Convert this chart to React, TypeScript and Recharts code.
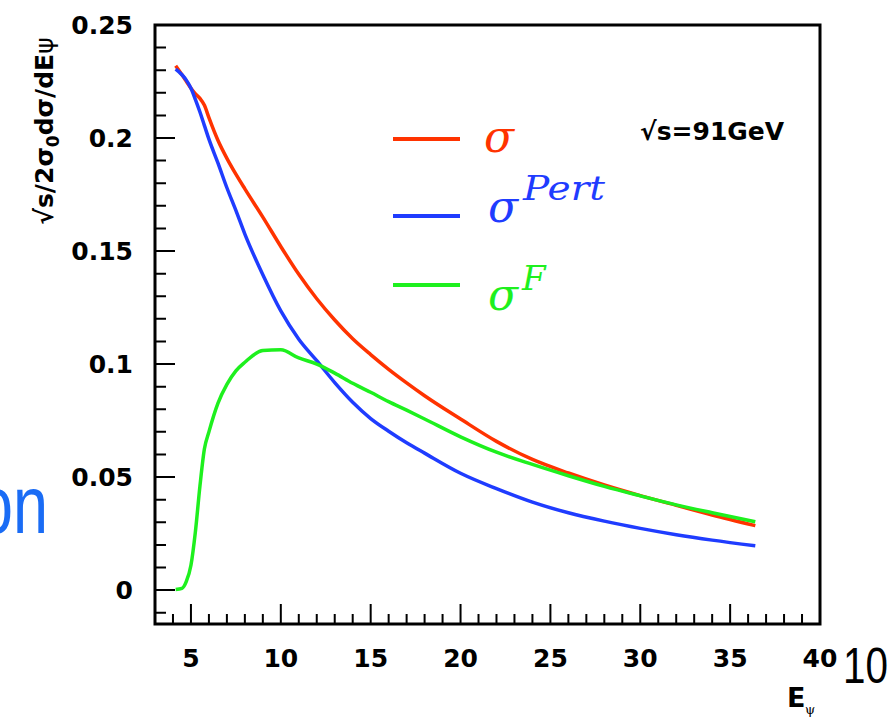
import { Line, LineChart, XAxis, YAxis } from "recharts";

// E_psi grid (GeV) and curve values
const energies = [4.15, 4.5, 4.75, 5, 5.25, 5.5, 5.75, 6, 6.5, 7, 7.5, 8, 9, 10, 11, 12, 13, 14, 15, 16, 17, 18, 20, 22, 24, 26, 28, 30, 32, 34, 36.4];
const sigmaTotal = [0.232, 0.228, 0.225, 0.222, 0.2195, 0.2175, 0.2145, 0.209, 0.199, 0.191, 0.184, 0.1775, 0.165, 0.152, 0.1397, 0.1289, 0.1195, 0.1112, 0.1042, 0.0977, 0.0917, 0.086, 0.0757, 0.0658, 0.0578, 0.0518, 0.0465, 0.0418, 0.0375, 0.0332, 0.0285];
const sigmaPert = [0.2305, 0.228, 0.2255, 0.222, 0.217, 0.2115, 0.2055, 0.1995, 0.189, 0.178, 0.168, 0.1575, 0.1395, 0.1235, 0.111, 0.1015, 0.0918, 0.0831, 0.0759, 0.0703, 0.0652, 0.0606, 0.0517, 0.0449, 0.0389, 0.0342, 0.0305, 0.0273, 0.0245, 0.0221, 0.0196];
const sigmaF = [0.0003, 0.0008, 0.004, 0.011, 0.026, 0.046, 0.0625, 0.07, 0.0826, 0.091, 0.097, 0.1008, 0.106, 0.1063, 0.1027, 0.1, 0.096, 0.0915, 0.0875, 0.0834, 0.0796, 0.0757, 0.0678, 0.061, 0.0556, 0.0506, 0.0459, 0.0417, 0.0377, 0.0342, 0.0302];

const xMajor = [5, 10, 15, 20, 25, 30, 35, 40];
const xMinor = [4, 6, 7, 8, 9, 11, 12, 13, 14, 16, 17, 18, 19, 21, 22, 23, 24, 26, 27, 28, 29, 31, 32, 33, 34, 36, 37, 38, 39];
const yMajor = [0, 0.05, 0.1, 0.15, 0.2, 0.25];
const yMajorLabels = ["0", "0.05", "0.1", "0.15", "0.2", "0.25"];
const yMinor = [-0.01, 0.01, 0.02, 0.03, 0.04, 0.06, 0.07, 0.08, 0.09, 0.11, 0.12, 0.13, 0.14, 0.16, 0.17, 0.18, 0.19, 0.21, 0.22, 0.23, 0.24];

const data = energies.map((e, i) => ({ e, total: sigmaTotal[i], pert: sigmaPert[i], f: sigmaF[i] }));

const RED = "#ff3300";
const BLUE = "#1f3cff";
const GREEN = "#1ef01e";
const tickFont = { fontFamily: "DejaVu Sans", fontWeight: 700, fontSize: 25 };
const X_DOMAIN: [number, number] = [3, 40];
const Y_DOMAIN: [number, number] = [-0.015, 0.25];

// plot box (matches chart margins + axis sizes below)
const W = 895;
const H = 717;
const LEFT = 155;
const RIGHT = 820;
const TOP = 25;
const BOTTOM = 624;
const sx = (v: number) => LEFT + ((v - X_DOMAIN[0]) / (X_DOMAIN[1] - X_DOMAIN[0])) * (RIGHT - LEFT);
const sy = (v: number) => BOTTOM - ((v - Y_DOMAIN[0]) / (Y_DOMAIN[1] - Y_DOMAIN[0])) * (BOTTOM - TOP);

const renderXLabel = (props: any) => (
  <text x={props.x} y={props.y + 43} textAnchor="middle" fill="#000" {...tickFont}>
    {props.payload.value}
  </text>
);

const renderYLabel = (props: any) => {
  const idx = yMajor.findIndex((v) => Math.abs(v - props.payload.value) < 1e-9);
  return (
    <text x={props.x - 22} y={props.y + 9} textAnchor="end" fill="#000" {...tickFont}>
      {yMajorLabels[idx]}
    </text>
  );
};

export default function App() {
  // inward ticks, drawn on top since the axis tick lines did not show up
  const tickPath = [
    ...xMajor.filter((v) => v < X_DOMAIN[1]).map((v) => `M${sx(v)},${BOTTOM}V${BOTTOM - 20}`),
    ...xMinor.map((v) => `M${sx(v)},${BOTTOM}V${BOTTOM - 10}`),
    ...yMajor.filter((v) => v < Y_DOMAIN[1]).map((v) => `M${LEFT},${sy(v)}H${LEFT + 20}`),
    ...yMinor.map((v) => `M${LEFT},${sy(v)}H${LEFT + 11}`),
  ].join("");

  return (
    <div style={{ position: "absolute", left: 0, top: 0, width: W, height: H, background: "#fff" }}>
      <LineChart width={W} height={H} data={data} margin={{ top: TOP, right: W - RIGHT, bottom: 0, left: 0 }}>
        <XAxis
          dataKey="e"
          type="number"
          domain={X_DOMAIN}
          ticks={xMajor}
          interval={0}
          height={H - BOTTOM}
          tickSize={0}
          tickMargin={0}
          tickLine={false}
          tick={renderXLabel}
          axisLine={false}
        />
        <YAxis
          type="number"
          domain={Y_DOMAIN}
          ticks={yMajor}
          interval={0}
          width={LEFT}
          tickSize={0}
          tickMargin={0}
          tickLine={false}
          tick={renderYLabel}
          axisLine={false}
          allowDataOverflow
        />
        <Line dataKey="total" stroke={RED} strokeWidth={3.5} dot={false} type="monotone" isAnimationActive={false} />
        <Line dataKey="pert" stroke={BLUE} strokeWidth={3.5} dot={false} type="monotone" isAnimationActive={false} />
        <Line dataKey="f" stroke={GREEN} strokeWidth={3.5} dot={false} type="monotone" isAnimationActive={false} />
      </LineChart>
      <svg width={W} height={H} style={{ position: "absolute", left: 0, top: 0, pointerEvents: "none" }}>
        <rect x={LEFT} y={TOP} width={RIGHT - LEFT} height={BOTTOM - TOP} fill="none" stroke="#000" strokeWidth={3} />
        <path d={tickPath} stroke="#000" strokeWidth={2} fill="none" />
        <text x={-22} y={533} fill="#1a6cf5" fontFamily="Liberation Sans" fontSize={82} textLength={70} lengthAdjust="spacingAndGlyphs">
          on
        </text>
        <text x={843} y={683} fill="#000" fontFamily="Liberation Sans" fontSize={50} textLength={45} lengthAdjust="spacingAndGlyphs">
          10
        </text>
        <g transform="translate(53,131) rotate(-90)">
          <text x={0} y={0} textAnchor="middle" fill="#000" fontFamily="DejaVu Sans" fontWeight={700} fontSize={25}>
            √s/2σ<tspan fontSize={17} dy={6}>0</tspan>
            <tspan dy={-6}>dσ/dE</tspan>
            <tspan fontWeight={400}>ψ</tspan>
          </text>
        </g>
        <text x={787} y={707} fill="#000" fontFamily="DejaVu Sans" fontWeight={700} fontSize={27}>
          E
        </text>
        <text x={805} y={714} fill="#000" fontFamily="DejaVu Serif" fontSize={13}>
          ψ
        </text>
        <text x={640} y={140} fill="#000" fontFamily="DejaVu Sans" fontWeight={700} fontSize={25}>
          √s=91GeV
        </text>
        <line x1={393} x2={460} y1={139} y2={139} stroke={RED} strokeWidth={4} />
        <line x1={393} x2={460} y1={216} y2={216} stroke={BLUE} strokeWidth={4} />
        <line x1={393} x2={460} y1={285} y2={285} stroke={GREEN} strokeWidth={4} />
        <g fontFamily="DejaVu Serif" fontStyle="italic">
          <text x={484} y={152} fill={RED} fontSize={44}>σ</text>
          <text x={488} y={222} fill={BLUE} fontSize={44}>σ</text>
          <text x={523} y={200} fill={BLUE} fontSize={34} textLength={82} lengthAdjust="spacingAndGlyphs">Pert</text>
          <text x={488} y={310} fill={GREEN} fontSize={44}>σ</text>
          <text x={522} y={290} fill={GREEN} fontSize={34}>F</text>
        </g>
      </svg>
    </div>
  );
}
